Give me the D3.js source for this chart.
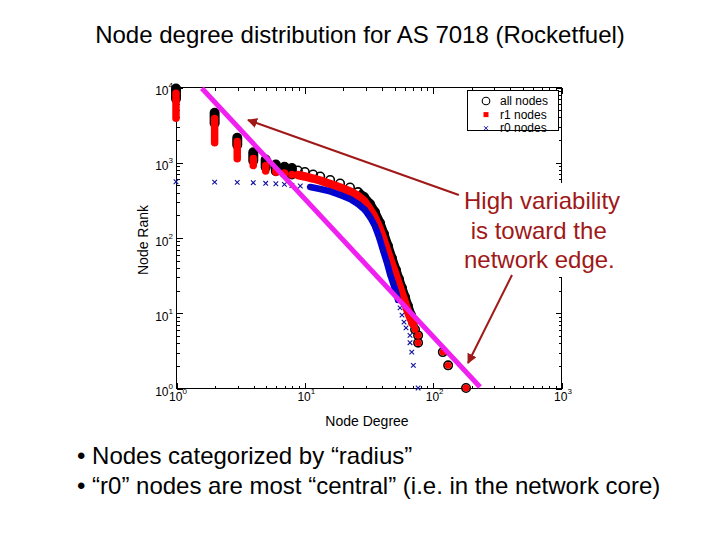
<!DOCTYPE html>
<html><head><meta charset="utf-8">
<script src="https://cdn.jsdelivr.net/npm/d3@7"></script>
<style>body{margin:0;background:#fff} svg{display:block} text{font-family:"Liberation Sans",Arial,Helvetica,sans-serif}</style>
</head><body>
<svg id="c" width="720" height="540"></svg>
<script>
// ---------- data ----------
const titleText = "Node degree distribution for AS 7018 (Rocketfuel)";
const xLabel = "Node Degree";
const yLabel = "Node Rank";
const xTickExps = [0, 1, 2, 3];
const yTickExps = [0, 1, 2, 3, 4];
const legendLabels = ["all nodes", "r1 nodes", "r0 nodes"];
const noteLines = ["High variability", " is toward the", "network edge."];
const bullets = ["\u2022 Nodes categorized by \u201cradius\u201d",
                 "\u2022 \u201cr0\u201d nodes are most \u201ccentral\u201d (i.e. in the network core)"];

// low degrees: many nodes share a degree -> vertical stacks (rank range)
const stackDeg    = [1, 2, 3, 4, 5, 6, 7, 8];
const allStackTop = [9550, 4540, 2113, 1360, 1088, 934, 870, 838];
const allStackBot = [7000, 3300, 1700, 1050, 860, 760, 715, 690];
const r1StackTop  = [8240, 3810, 1887, 1122, 904, 775, 720, 690];
const r1StackBot  = [3850, 1822, 1110, 904, 766, 735, 710, 680];

// all nodes, dense part
const allCurveDeg  = [8.9, 10.1, 11.7, 13.3, 15.9, 19.0, 22.7, 26.2, 29.2, 32.5, 35.5, 38.9, 41.8, 44.9, 48.2, 51.8, 54.7, 57.7, 60.9, 64.2, 67.8, 70.3];
const allCurveRank = [777, 742, 687, 647, 581, 522, 462, 402, 345, 279, 218, 156, 111, 77, 53, 37, 28, 21.3, 16.2, 12.3, 9.3, 7.5];
// r1 nodes, dense part
const r1CurveDeg  = [8.9, 10.1, 11.7, 13.3, 15.9, 19.0, 22.7, 26.2, 29.2, 31.9, 34.9, 38.2, 41.0, 44.1, 47.4, 50.9, 53.7, 56.7, 59.8, 63.1, 66.6, 70.3];
const r1CurveRank = [677, 647, 608, 572, 514, 462, 409, 356, 305, 247, 193, 138, 98.5, 68.2, 47.2, 33.7, 25.6, 19.5, 14.8, 11.2, 8.8, 7.1];
// highest-degree nodes (same for all nodes and r1 nodes)
const tailDeg  = [72.9, 77, 77, 120, 132, 182];
const tailRank = [6, 5, 4, 3, 2, 1];

// r0 nodes
const r0SingleDeg  = [1, 2, 3, 4, 5, 6, 7, 8];
const r0SingleRank = [551, 545, 540, 535, 525, 518, 509, 490];
const r0CurveDeg  = [9.3, 11.1, 13.3, 15.9, 19.0, 22.7, 26.2, 29.7, 32.5, 35.5, 38.2, 41.0, 44.1, 46.5, 49.1, 51.8, 53.7];
const r0CurveRank = [484, 469, 441, 409, 367, 325, 279, 232, 187, 142, 101.5, 68.2, 45.8, 32.7, 24.9, 18.9, 14.8];
const r0TailDeg  = [55.7, 57.7, 59.8, 62.0, 66.6, 66.6, 68.7, 70.7, 77];
const r0TailRank = [11.6, 9.3, 7.5, 6.3, 5, 4, 3, 2, 1];

// power-law guide line and annotation arrows (data coordinates)
const fitDeg  = [1.59, 234];
const fitRank = [9610, 1.03];
const arrowFromDeg  = [160, 415];
const arrowFromRank = [367, 31.7];
const arrowToDeg    = [3.64, 188.6];
const arrowToRank   = [3643, 2.15];

// ---------- drawing ----------
const W = 720, H = 540;
const L = 176, R = 561, T = 87, B = 388;
const x = d3.scaleLog().domain([1, 1000]).range([L, R]);
const y = d3.scaleLog().domain([1, 10000]).range([B, T]);
const svg = d3.select("#c");
svg.append("rect").attr("width", W).attr("height", H).attr("fill", "#fff");

const BLACK = "#000", RED = "#ff0000", BLUE = "#0000d8", XBLUE = "#1010a0", MAG = "#f020f0", ARROW = "#a01818";

// title
svg.append("text").attr("x", 360).attr("y", 43).attr("text-anchor", "middle")
  .attr("font-size", 24).text(titleText);

// axes box
svg.append("rect").attr("x", L + 0.5).attr("y", T + 0.5).attr("width", R - L).attr("height", B - T)
  .attr("fill", "none").attr("stroke", "#000").attr("stroke-width", 1);

function minorVals(scale) {
  const [a, b] = scale.domain(); const out = [];
  for (let e = Math.log10(a); e < Math.log10(b); e++)
    for (let m = 2; m <= 9; m++) out.push(m * Math.pow(10, e));
  return out;
}
const xMaj = xTickExps.map(e => Math.pow(10, e));
const yMaj = yTickExps.map(e => Math.pow(10, e));
function addAxis(gen, scale, vals, size, tx, ty) {
  const g = svg.append("g").attr("transform", `translate(${tx},${ty})`)
    .call(gen(scale).tickValues(vals).tickSize(size).tickFormat(""));
  g.select(".domain").remove();
  g.selectAll("line").attr("stroke", "#000").attr("shape-rendering", "crispEdges");
}
addAxis(d3.axisBottom, x, xMaj, -6, 0.5, B + 0.5);
addAxis(d3.axisBottom, x, minorVals(x), -3, 0.5, B + 0.5);
addAxis(d3.axisTop, x, xMaj, -6, 0.5, T + 0.5);
addAxis(d3.axisTop, x, minorVals(x), -3, 0.5, T + 0.5);
addAxis(d3.axisLeft, y, yMaj, -6, L + 0.5, 0.5);
addAxis(d3.axisLeft, y, minorVals(y), -3, L + 0.5, 0.5);
addAxis(d3.axisRight, y, yMaj, -6, R + 0.5, 0.5);
addAxis(d3.axisRight, y, minorVals(y), -3, R + 0.5, 0.5);

// tick labels
xTickExps.forEach(e => {
  const t = svg.append("text").attr("x", x(Math.pow(10, e)) + 2).attr("y", B + 13)
    .attr("text-anchor", "middle").attr("font-size", 12);
  t.append("tspan").text("10");
  t.append("tspan").attr("dy", -7).attr("font-size", 8).text(e);
});
yTickExps.forEach(e => {
  const t = svg.append("text").attr("x", L - 3).attr("y", y(Math.pow(10, e)) + 8)
    .attr("text-anchor", "end").attr("font-size", 12);
  t.append("tspan").text("10");
  t.append("tspan").attr("dy", -7).attr("font-size", 8).text(e);
});
svg.append("text").attr("x", 367).attr("y", 426).attr("text-anchor", "middle")
  .attr("font-size", 14).text(xLabel);
svg.append("text").attr("transform", "translate(148,240) rotate(-90)")
  .attr("text-anchor", "middle").attr("font-size", 14).text(yLabel);

const plot = svg.append("g");
const line = d3.line().x(p => x(p[0])).y(p => y(p[1]));

// all nodes: open black circles
plot.selectAll(".as").data(stackDeg).enter().append("line")
  .attr("x1", d => x(d)).attr("x2", d => x(d))
  .attr("y1", (d, i) => y(allStackTop[i])).attr("y2", (d, i) => y(allStackBot[i]))
  .attr("stroke", BLACK).attr("stroke-width", 10).attr("stroke-linecap", "round");
const allPts = allCurveDeg.map((d, i) => [d, allCurveRank[i]]);
plot.append("path").attr("d", line(allPts.slice(7))).attr("fill", "none")
  .attr("stroke", BLACK).attr("stroke-width", 9).attr("stroke-linejoin", "round");
plot.selectAll(".ac").data(allPts.concat(tailDeg.map((d, i) => [d, tailRank[i]]))).enter()
  .append("circle").attr("cx", p => x(p[0])).attr("cy", p => y(p[1])).attr("r", 4.2)
  .attr("fill", "none").attr("stroke", BLACK).attr("stroke-width", 1.6);

// r1 nodes: red dots
plot.selectAll(".rs").data(stackDeg).enter().append("line")
  .attr("x1", d => x(d)).attr("x2", d => x(d))
  .attr("y1", (d, i) => y(r1StackTop[i])).attr("y2", (d, i) => y(r1StackBot[i]))
  .attr("stroke", RED).attr("stroke-width", 7.5).attr("stroke-linecap", "round");
const r1Pts = r1CurveDeg.map((d, i) => [d, r1CurveRank[i]]);
plot.append("path").attr("d", line(r1Pts)).attr("fill", "none")
  .attr("stroke", RED).attr("stroke-width", 8.5).attr("stroke-linejoin", "round").attr("stroke-linecap", "round");
plot.selectAll(".rt").data(tailDeg.map((d, i) => [d, tailRank[i]])).enter()
  .append("circle").attr("cx", p => x(p[0])).attr("cy", p => y(p[1])).attr("r", 3.4).attr("fill", RED);

// r0 nodes: blue x
const r0Pts = r0CurveDeg.map((d, i) => [d, r0CurveRank[i]]);
plot.append("path").attr("d", line(r0Pts.slice(1))).attr("fill", "none")
  .attr("stroke", BLUE).attr("stroke-width", 6.5).attr("stroke-linejoin", "round").attr("stroke-linecap", "round");
const xMark = "M-2.3,-2.3L2.3,2.3M-2.3,2.3L2.3,-2.3";
const allR0 = r0SingleDeg.map((d, i) => [d, r0SingleRank[i]])
  .concat(r0Pts).concat(r0TailDeg.map((d, i) => [d, r0TailRank[i]]));
plot.selectAll(".bx").data(allR0).enter().append("path")
  .attr("d", xMark).attr("transform", p => `translate(${x(p[0])},${y(p[1])})`)
  .attr("stroke", XBLUE).attr("stroke-width", 1.1).attr("fill", "none");

// legend
const lg = svg.append("g");
lg.append("rect").attr("x", 467.5).attr("y", 90.5).attr("width", 91).attr("height", 40)
  .attr("fill", "#fff").attr("stroke", "#000");
legendLabels.forEach((s, i) => {
  const cy = 101 + i * 13.6;
  lg.append("text").attr("x", 500).attr("y", cy + 4).attr("font-size", 12).text(s);
  if (i === 0) lg.append("circle").attr("cx", 486).attr("cy", cy).attr("r", 3.8)
    .attr("fill", "none").attr("stroke", BLACK).attr("stroke-width", 1.1);
  if (i === 1) lg.append("rect").attr("x", 483.5).attr("y", cy - 2.5).attr("width", 5).attr("height", 5).attr("fill", RED);
  if (i === 2) lg.append("path").attr("d", "M-2,-2L2,2M-2,2L2,-2").attr("transform", `translate(486,${cy})`)
    .attr("stroke", XBLUE).attr("stroke-width", 1);
});

// power-law guide line
svg.append("line").attr("x1", x(fitDeg[0])).attr("y1", y(fitRank[0]))
  .attr("x2", x(fitDeg[1])).attr("y2", y(fitRank[1]))
  .attr("stroke", MAG).attr("stroke-width", 5);

// note with white background
svg.append("rect").attr("x", 458).attr("y", 183).attr("width", 170).attr("height", 94).attr("fill", "#fff");
noteLines.forEach((s, i) => {
  svg.append("text").attr("x", 464).attr("y", 209 + i * 29.5).attr("font-size", 24)
    .attr("fill", ARROW).attr("xml:space", "preserve").style("white-space", "pre").text(s);
});

// arrows
const defs = svg.append("defs");
defs.append("marker").attr("id", "ah").attr("viewBox", "0 0 10 10").attr("refX", 9).attr("refY", 5)
  .attr("markerWidth", 5).attr("markerHeight", 5).attr("orient", "auto")
  .append("path").attr("d", "M0,0L10,5L0,10z").attr("fill", ARROW);
arrowFromDeg.forEach((d, i) => {
  svg.append("line").attr("x1", x(d)).attr("y1", y(arrowFromRank[i]))
    .attr("x2", x(arrowToDeg[i])).attr("y2", y(arrowToRank[i]))
    .attr("stroke", ARROW).attr("stroke-width", 2).attr("marker-end", "url(#ah)");
});

// bullets
bullets.forEach((s, i) => {
  svg.append("text").attr("x", 77).attr("y", 464 + i * 30).attr("font-size", 24).text(s);
});
</script>
</body></html>
